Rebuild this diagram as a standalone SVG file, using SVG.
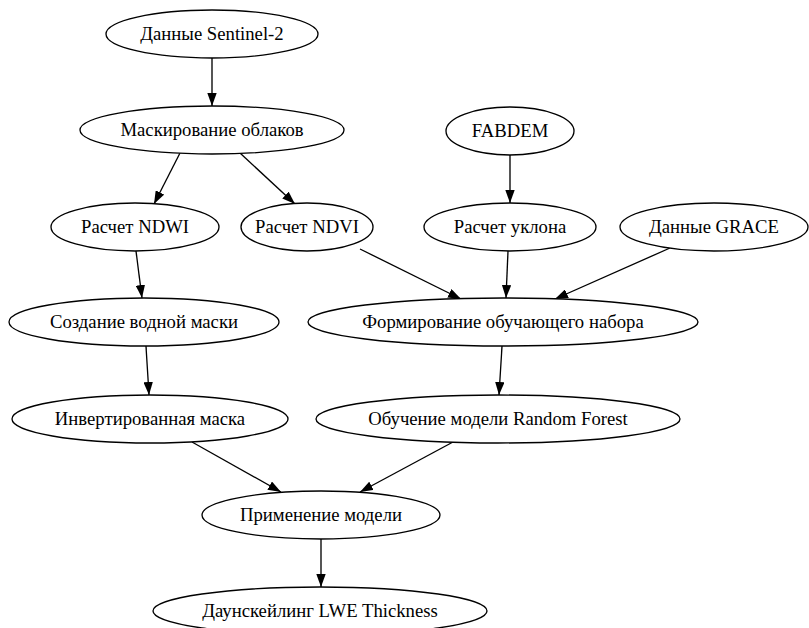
<svg xmlns="http://www.w3.org/2000/svg" width="809" height="628" viewBox="0 0 809 628">
<defs>
<style>
.node ellipse{fill:#fff;stroke:#000;stroke-width:1.33}
.node text{font-family:"Liberation Serif","Times New Roman",serif;font-size:18.7px;fill:#000;text-anchor:middle}
.edges path{fill:none;stroke:#000;stroke-width:1.33;marker-end:url(#arr)}
</style>
<marker id="arr" viewBox="0 0 13 9.4" refX="13" refY="4.7" markerWidth="13" markerHeight="9.4" markerUnits="userSpaceOnUse" orient="auto">
<path d="M0,0 L13,4.7 L0,9.4 z" fill="#000"/>
</marker>
</defs>
<rect width="809" height="628" fill="#fff"/>
<g class="edges">
<path d="M212,58 L212,106"/>
<path d="M180,153 L154,204"/>
<path d="M240,153 L295,204"/>
<path d="M136,251 L142,298"/>
<path d="M510,155 L510,203"/>
<path d="M360,249 L461,299"/>
<path d="M508,251 L506,298"/>
<path d="M670,248 L555,299"/>
<path d="M146,346 L149,395"/>
<path d="M502,346 L499,395"/>
<path d="M192,442 L281,492"/>
<path d="M453,442 L360,492"/>
<path d="M321,539 L321,587"/>
</g>
<g id="n1" class="node"><ellipse cx="212" cy="34" rx="106" ry="24"/><text x="212" y="40">Данные Sentinel-2</text></g>
<g id="n2" class="node"><ellipse cx="212" cy="130" rx="132" ry="24"/><text x="212" y="136">Маскирование облаков</text></g>
<g id="n3" class="node"><ellipse cx="135" cy="227" rx="84" ry="24"/><text x="135" y="233">Расчет NDWI</text></g>
<g id="n4" class="node"><ellipse cx="307" cy="227" rx="66" ry="24"/><text x="307" y="233">Расчет NDVI</text></g>
<g id="n5" class="node"><ellipse cx="510" cy="131" rx="64" ry="24"/><text x="510" y="137">FABDEM</text></g>
<g id="n6" class="node"><ellipse cx="510" cy="227" rx="86" ry="24"/><text x="510" y="233">Расчет уклона</text></g>
<g id="n7" class="node"><ellipse cx="714" cy="227" rx="94" ry="24"/><text x="714" y="233">Данные GRACE</text></g>
<g id="n8" class="node"><ellipse cx="144" cy="322" rx="135" ry="24"/><text x="144" y="328">Создание водной маски</text></g>
<g id="n9" class="node"><ellipse cx="503" cy="322" rx="195" ry="24"/><text x="503" y="328">Формирование обучающего набора</text></g>
<g id="n10" class="node"><ellipse cx="150" cy="419" rx="138" ry="24"/><text x="150" y="425">Инвертированная маска</text></g>
<g id="n11" class="node"><ellipse cx="498" cy="419" rx="182" ry="24"/><text x="498" y="425">Обучение модели Random Forest</text></g>
<g id="n12" class="node"><ellipse cx="321" cy="515" rx="119" ry="24"/><text x="321" y="521">Применение модели</text></g>
<g id="n13" class="node"><ellipse cx="320" cy="611" rx="167" ry="24"/><text x="320" y="617">Даунскейлинг LWE Thickness</text></g>
</svg>
